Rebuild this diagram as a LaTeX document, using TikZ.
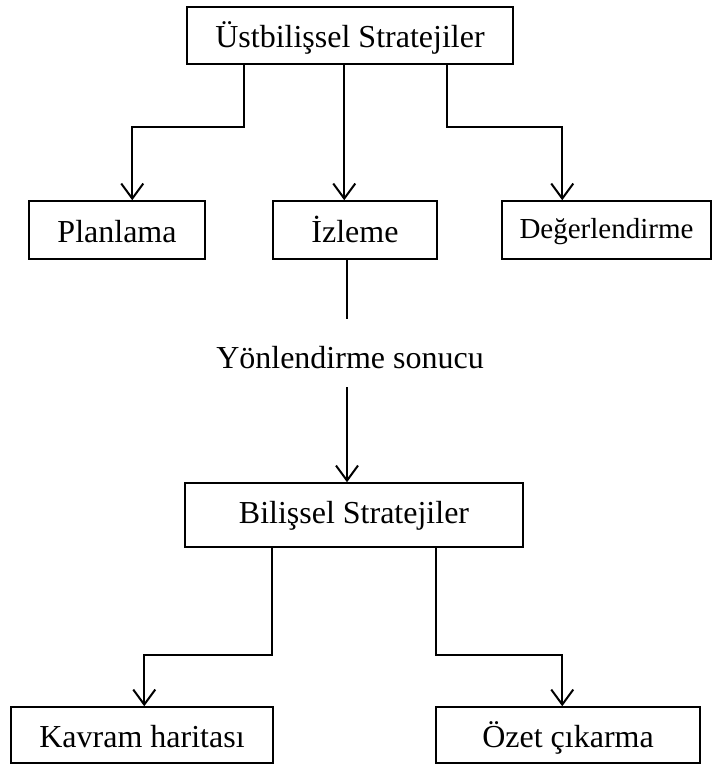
\documentclass[tikz,border=0pt]{standalone}
\usepackage{fontspec}
\setmainfont{Liberation Serif}
\usetikzlibrary{arrows.meta}
\begin{document}
\begin{tikzpicture}[x=1pt,y=-1pt,
  box/.style={draw, line width=1.5pt, minimum height=58pt, inner sep=0pt,
              font=\fontsize{32}{38}\selectfont, text depth=6pt, text height=30pt},
  lowtext/.style={text depth=6pt, text height=22pt},
  lbl/.style={font=\fontsize{32}{38}\selectfont, inner sep=0pt, text depth=6pt, text height=30pt},
  ln/.style={line width=2pt},
  arr/.style={line width=2pt, -{Straight Barb[length=15pt,width=22pt]}}]
\useasboundingbox (0,0) rectangle (713,765);

% metacognitive level
\node[box, minimum width=326pt, minimum height=57pt] (top) at (350,35.5) {Üstbilişsel Stratejiler};
\node[box, minimum width=176pt] (pl) at (117,230) {Planlama};
\node[box, minimum width=164pt] (iz) at (355,230) {İzleme};
\node[box, lowtext, minimum width=209pt, font=\fontsize{29}{35}\selectfont] (de) at (606.5,230) {Değerlendirme};

% guidance label
\node[lbl] (yon) at (350,356) {Yönlendirme sonucu};
\coordinate (gapTop) at (347,319);
\coordinate (gapBot) at (347,387);

% cognitive level
\node[box, lowtext, minimum width=338pt, minimum height=64pt] (bil) at (354,515) {Bilişsel Stratejiler};
\node[box, minimum width=262pt, minimum height=56pt] (kav) at (142,735) {Kavram haritası};
\node[box, minimum width=264pt, minimum height=56pt] (oz) at (568,735) {Özet çıkarma};

% connectors from the metacognitive box
\draw[arr] ([xshift=58pt]top.south west) -- ++(0,62) -| ([xshift=104pt]pl.north west);
\draw[arr] ([xshift=158pt]top.south west) -- ([xshift=72pt]iz.north west);
\draw[arr] ([xshift=261pt]top.south west) -- ++(0,62) -| ([xshift=61pt]de.north west);

% monitoring leads to the cognitive strategies
\draw[ln] (iz.south -| gapTop) -- (gapTop);
\draw[arr] (gapBot) -- (bil.north -| gapBot);

% connectors from the cognitive box
\draw[arr] ([xshift=88pt]bil.south west) -- ++(0,107) -| ([xshift=134pt]kav.north west);
\draw[arr] ([xshift=252pt]bil.south west) -- ++(0,107) -| ([xshift=127pt]oz.north west);
\end{tikzpicture}
\end{document}
